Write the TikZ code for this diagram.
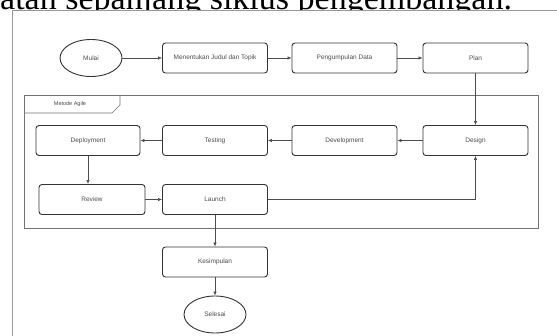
\documentclass[tikz,border=0pt]{standalone}
\usepackage{fontspec}
\setmainfont{Liberation Serif}
\newfontfamily\boxfont{Liberation Sans}
\usetikzlibrary{shapes.geometric,arrows.meta}
\begin{document}
\begin{tikzpicture}[x=1pt,y=-1pt,
  proc/.style={draw=black!80, line width=0.9pt, rounded corners=3pt,
    minimum width=105pt, minimum height=30pt, inner sep=0pt,
    font=\boxfont\fontsize{6.5}{7}\selectfont, text=black!70},
  term/.style={draw=black!80, line width=0.9pt, ellipse,
    minimum width=62pt, minimum height=37pt, inner sep=0pt,
    font=\boxfont\fontsize{6.5}{7}\selectfont, text=black!70},
  conn/.style={draw=black!70, line width=0.6pt, -{Latex[length=4pt,width=3.5pt]}},
  outerline/.style={draw=black!40, line width=0.9pt},
  groupline/.style={draw=black!55, line width=0.7pt}]
\useasboundingbox (0,0) rectangle (557,336);
% cropped caption text of the page above the figure
\node[anchor=base west, inner sep=0pt, font=\fontsize{34}{34}\selectfont] (caption) at (0,9.5) {atan sepanjang siklus pengembangan.};
% outer frame of the figure (white image area covering the caption's descenders)
\fill[white] (12.5,10.5) rectangle (570,345);
\draw[outerline] (12.5,345) -- (12.5,10.5) -- (570,10.5);
% Metode Agile group
\draw[groupline] (24,95) rectangle (538,228);
\draw[groupline] (24,113) -- (112,113) -- (120,105) -- (120,95);
\node[font=\boxfont\fontsize{5.5}{6}\selectfont, text=black!70] (agile) at (70,104) {Metode Agile};
% nodes
\node[term] (mulai) at (91,58) {Mulai};
\node[proc] (judul) at (215,58) {Menentukan Judul dan Topik};
\node[proc] (data) at (344.5,58) {Pengumpulan Data};
\node[proc] (plan) at (475.5,58) {Plan};
\node[proc] (design) at (475.5,140.5) {Design};
\node[proc] (dev) at (344.5,140.5) {Development};
\node[proc] (test) at (215,140.5) {Testing};
\node[proc, minimum width=104pt] (deploy) at (88,140.5) {Deployment};
\node[proc, minimum width=106pt] (review) at (92,199.5) {Review};
\node[proc] (launch) at (215,199.5) {Launch};
\node[proc] (kesimpulan) at (215,262) {Kesimpulan};
\node[term] (selesai) at (215,314.5) {Selesai};
% connectors
\draw[conn] (mulai) -- (judul);
\draw[conn] (judul) -- (data);
\draw[conn] (data) -- (plan);
\draw[conn] (plan) -- (design);
\draw[conn] (design) -- (dev);
\draw[conn] (dev) -- (test);
\draw[conn] (test) -- (deploy);
\draw[conn] (deploy.south) -- (deploy.south |- review.north);
\draw[conn] (review) -- (launch);
\draw[conn] (launch.east) -| (design.south);
\draw[conn] (launch) -- (kesimpulan);
\draw[conn] (kesimpulan) -- (selesai);
\end{tikzpicture}
\end{document}
